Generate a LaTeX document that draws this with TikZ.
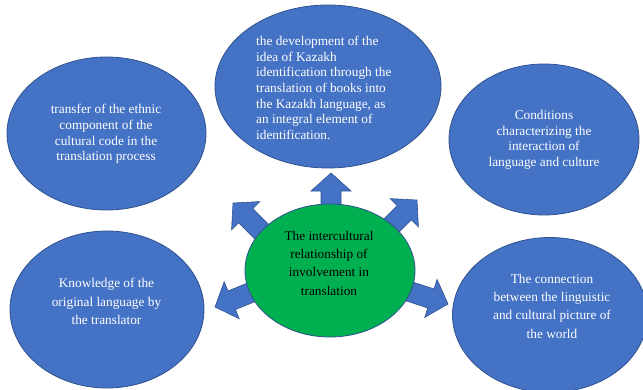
\documentclass[tikz,border=0pt]{standalone}
\usepackage{fontspec}
\setmainfont{Liberation Serif}
\usetikzlibrary{shapes.geometric}

\begin{document}
\begin{tikzpicture}[x=1pt, y=1pt,
    blob/.style={ellipse, draw=blue edge, fill=blue face, line width=0.8pt, inner sep=0pt},
    blurb/.style={text=white, align=center, inner sep=0pt, font=\fontsize{13.3}{15.6}\selectfont},
    blurb wide/.style={blurb, font=\fontsize{13.3}{18.3}\selectfont},
    spoke/.style={draw=blue edge, fill=blue face, line width=0.6pt}]
  \definecolor{blue face}{HTML}{4472C4}
  \definecolor{blue edge}{HTML}{2F528F}
  \definecolor{green face}{HTML}{00B050}
  \useasboundingbox (0,0) rectangle (643,389);

  % outer circles
  \node[blob, minimum width=226pt, minimum height=163pt] (kaz) at (328,302.5) {};
  \node[blob, minimum width=199pt, minimum height=153pt] (eth) at (106.5,255.5) {};
  \node[blob, minimum width=190pt, minimum height=151pt] (cond) at (544,249.5) {};
  \node[blob, minimum width=194pt, minimum height=157pt] (orig) at (107,79.5) {};
  \node[blob, minimum width=195pt, minimum height=155pt] (world) at (550,74) {};

  \node[blurb, align=left, anchor=west] (kazT) at (256,301) {the development of the\\
    idea of Kazakh\\ identification through the\\ translation of books into\\
    the Kazakh language, as\\ an integral element of\\ identification.};
  \node[blurb] (ethT) at (106,255) {transfer of the ethnic\\ component of the\\
    cultural code in the\\ translation process};
  \node[blurb] (condT) at (544,249) {Conditions\\ characterizing the\\
    interaction of\\ language and culture};
  \node[blurb wide] (origT) at (106.5,87.5) {Knowledge of the\\
    original language by\\ the translator};
  \node[blurb wide] (worldT) at (552,83) {The connection\\ between the linguistic\\
    and cultural picture of\\ the world};

  % block arrows out of the hub: tip offset / angle
  \coordinate (hub) at (330,118.5);
  \def\spokes{1/97.5/90, -97/67.5/135, 87/70.5/45, -115/-36.5/202, 118/-33.5/-18}
  \foreach \dx/\dy/\ang in \spokes {
    \draw[spoke, shift={(hub)}, shift={(\dx,\dy)}, rotate=\ang]
      (0,0) -- (-18,20) -- (-18,10) -- (-55,10) -- (-55,-10) -- (-18,-10) -- (-18,-20) -- cycle;
  }

  % centre
  \node[blob, fill=green face, minimum width=170pt, minimum height=133pt] (core) at (hub) {};
  \node[blurb wide, text=black] (coreT) at (329,126) {The intercultural\\
    relationship of\\ involvement in\\ translation};
\end{tikzpicture}
\end{document}
